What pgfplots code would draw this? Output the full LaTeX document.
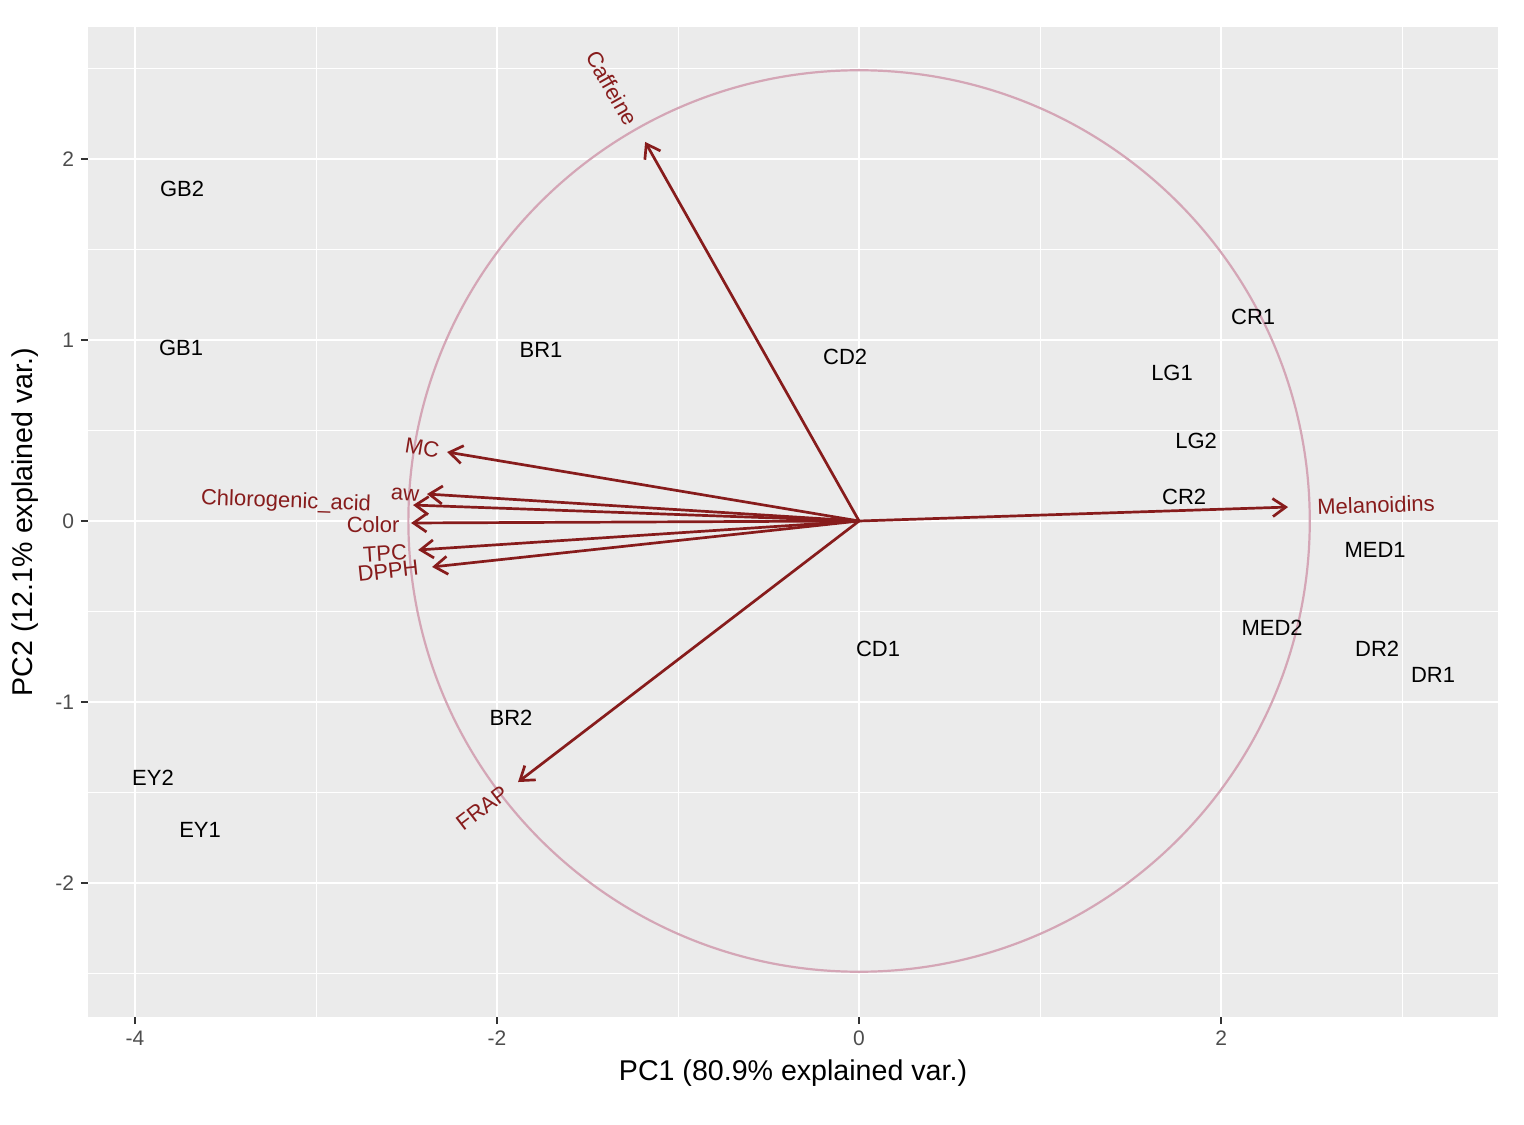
\documentclass[border=0pt]{standalone}
\usepackage{pgfplots}
\pgfplotsset{compat=1.18}
\usepackage{fontspec}
\setmainfont{Liberation Sans}
\usetikzlibrary{arrows.meta}
\definecolor{panelbg}{HTML}{EBEBEB}
\definecolor{arrowred}{RGB}{135,28,28}
\definecolor{circpink}{RGB}{212,166,182}
\definecolor{tickgray}{HTML}{333333}
\definecolor{labgray}{HTML}{4D4D4D}
\tikzset{
 varrow/.style={arrowred, line width=1.35pt, -{Straight Barb[length=6.5pt,width=9pt,line width=1.35pt]}},
 varlab/.style={font=\fontsize{11}{13}\selectfont, text=arrowred, inner sep=0pt},
}

\pgfplotstableread{
x y label
-3.740 1.834 GB2
-3.746 0.956 GB1
-1.757 0.945 BR1
-0.077 0.906 CD2
2.177 1.127 CR1
1.729 0.818 LG1
1.862 0.442 LG2
1.796 0.133 CR2
2.851 -0.160 MED1
2.282 -0.591 MED2
2.862 -0.707 DR2
3.171 -0.851 DR1
0.105 -0.707 CD1
-1.923 -1.088 BR2
-3.901 -1.420 EY2
-3.641 -1.707 EY1
}\samples

\begin{document}
\begin{tikzpicture}
\useasboundingbox (-44pt,-53.5pt) rectangle (718pt,508.5pt);
\begin{axis}[
 at={(0,0)}, anchor=south west,
 scale only axis, width=705pt, height=495pt,
 xmin=-4.260, xmax=3.530, ymin=-2.740, ymax=2.729,
 axis background/.style={fill=panelbg},
 axis line style={draw=none},
 xtick={-4,-2,0,2}, xticklabels={-4,-2,0,2},
 ytick={-2,-1,0,1,2}, yticklabels={-2,-1,0,1,2},
 minor xtick={-3,-1,1,3},
 minor ytick={-2.5,-1.5,-0.5,0.5,1.5,2.5},
 grid=both,
 major grid style={white, line width=1.1pt},
 minor grid style={white, line width=0.55pt},
 tick align=outside,
 xtick pos=bottom, ytick pos=left,
 major tick length=3.5pt, minor tick length=0pt,
 major tick style={tickgray, line width=1pt},
 ticklabel style={font=\fontsize{10.5}{12}\selectfont, text=labgray},
 xlabel={PC1 (80.9\% explained var.)},
 ylabel={PC2 (12.1\% explained var.)},
 label style={font=\fontsize{14.3}{16}\selectfont},
 xlabel style={at={(axis description cs:0.5,-0.0566)}, anchor=center},
 ylabel style={at={(axis description cs:-0.0447,0.5)}, anchor=center},
 clip=false,
]
\draw[circpink, line width=1.1pt] (axis cs:0,0) circle[radius=2.49];

\addplot[draw=none, mark=none, nodes near coords, point meta=explicit symbolic,
  every node near coord/.append style={anchor=center, font=\fontsize{11}{13}\selectfont, text=black, inner sep=0pt}]
  table[x=x, y=y, meta=label] {\samples};

\addplot[varrow, mark=none] coordinates {(0,0) (-1.182,2.094)};
\addplot[varrow, mark=none] coordinates {(0,0) (-2.276,0.381)};
\addplot[varrow, mark=none] coordinates {(0,0) (-2.387,0.149)};
\addplot[varrow, mark=none] coordinates {(0,0) (-2.464,0.088)};
\addplot[varrow, mark=none] coordinates {(0,0) (-2.475,-0.011)};
\addplot[varrow, mark=none] coordinates {(0,0) (-2.436,-0.160)};
\addplot[varrow, mark=none] coordinates {(0,0) (-2.359,-0.254)};
\addplot[varrow, mark=none] coordinates {(0,0) (-1.884,-1.442)};
\addplot[varrow, mark=none] coordinates {(0,0) (2.370,0.077)};

\node[varlab, rotate=-60.6] at (axis cs:-1.365,2.392) {Caffeine};
\node[varlab, rotate=-9.5] at (axis cs:-2.414,0.403) {MC};
\node[varlab, rotate=-3.6] at (axis cs:-2.508,0.144) {aw};
\node[varlab, rotate=-2.0] at (axis cs:-3.166,0.105) {Chlorogenic\_acid};
\node[varlab, rotate=0.25] at (axis cs:-2.685,-0.022) {Color};
\node[varlab, rotate=3.8] at (axis cs:-2.619,-0.177) {TPC};
\node[varlab, rotate=6.1] at (axis cs:-2.602,-0.276) {DPPH};
\node[varlab, rotate=37.4] at (axis cs:-2.083,-1.586) {FRAP};
\node[varlab, rotate=1.9] at (axis cs:2.856,0.088) {Melanoidins};
\end{axis}
\end{tikzpicture}
\end{document}
